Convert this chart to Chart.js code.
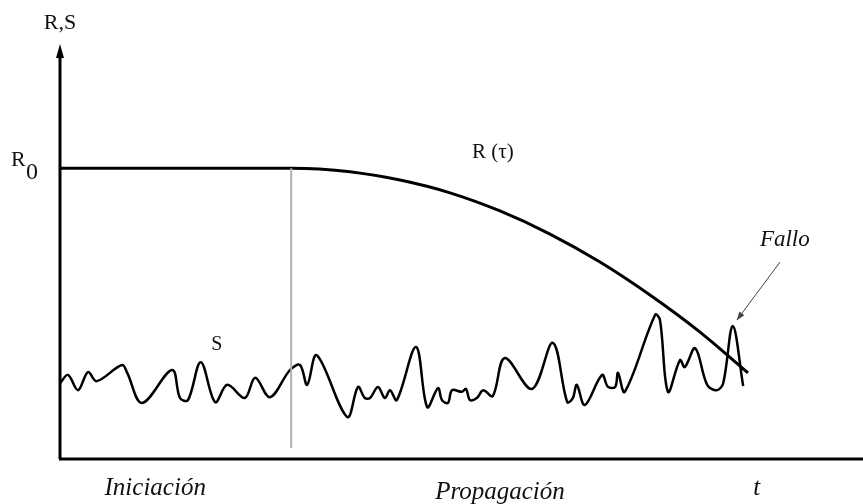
<!DOCTYPE html>
<html>
<head>
<meta charset="utf-8">
<script src="https://cdn.jsdelivr.net/npm/chart.js@4"></script>
<style>
  html, body { margin: 0; padding: 0; background: #fff; }
</style>
</head>
<body>
<canvas id="chart" width="863" height="504"></canvas>
<script>
/* global Chart */

// resistance R(t): flat at R0 through initiation, then falls
const r_time = [0, 28.9, 32.4, 36.25, 42.5, 48.75, 55, 61.25, 67.5, 73.75, 80, 86];
const r_value = [70.6, 70.6, 70.4, 69.7, 67.7, 64.6, 60.2, 54.6, 47.8, 39.8, 30.8, 20.9];

// load S(t), noisy
const s_time = [
    0, 1.0, 2.25, 3.5, 4.6, 7.75, 8.4, 10.25, 14.0, 15, 16, 17.6, 19.4, 20.9,
    23.1, 24.4, 26.25, 28.75, 30, 30.9, 32.1, 35.9, 37.25, 38.1, 38.75, 39.75,
    40.6, 41.25, 42.1, 44.5, 45.9, 47.25, 47.75, 48.5, 49, 50.25, 50.75, 51.25,
    52.1, 52.9, 54.1, 55.6, 59, 61.6, 63.4, 64.1, 64.6, 65.6, 67.75, 68.5,
    69.4, 69.75, 70.6, 74.4, 75, 76, 77.5, 78.1, 79.4, 80.9, 82.1, 82.9, 84.1,
    85.4
];
const s_value = [
    18.4, 20.4, 16.7, 21.1, 18.9, 22.8, 20.9, 13.6, 21.6, 14.8, 14.3, 23.5, 13.8,
    18.0, 14.8, 19.7, 15.0, 21.6, 22.8, 18.0, 25.2, 10.2, 17.5, 14.8, 14.8, 17.5,
    14.8, 16.7, 14.3, 27.2, 12.6, 17.2, 14.3, 13.6, 16.7, 16.3, 17.0, 14.3,
    14.8, 16.7, 15.3, 24.5, 17.0, 28.2, 13.8, 14.8, 18.0, 13.1, 20.4, 17.5,
    17.5, 20.9, 16.3, 35.0, 33.7, 16.3, 24.0, 22.3, 26.9, 18.0, 16.7, 18.4, 32.3,
    17.7
];

// end of initiation phase
const phase_time = [28.9, 28.9];
const phase_value = [70.6, 2.7];

const R0 = 70.6;
const failure_point = { t: 84.6, v: 33.7 };
const failure_label = { t: 90.6, v: 53.2 };

const toPoints = (xs, ys) => xs.map((x, i) => ({ x: x, y: ys[i] }));

const SERIF = '"Liberation Serif", "DejaVu Serif", serif';

const sketchDecor = {
    id: "sketchDecor",
    afterDraw(chart) {
        const ctx = chart.ctx;
        const area = chart.chartArea;
        const xs = chart.scales.x;
        const ys = chart.scales.y;
        ctx.save();

        // axes
        ctx.strokeStyle = "#000";
        ctx.lineWidth = 3;
        ctx.beginPath();
        ctx.moveTo(area.left, area.bottom);
        ctx.lineTo(area.left, area.top + 8);
        ctx.moveTo(area.left - 1, area.bottom);
        ctx.lineTo(chart.width, area.bottom);
        ctx.stroke();
        ctx.fillStyle = "#000";
        ctx.beginPath();
        ctx.moveTo(area.left, area.top - 3);
        ctx.lineTo(area.left - 4, area.top + 11);
        ctx.lineTo(area.left + 4, area.top + 11);
        ctx.closePath();
        ctx.fill();

        ctx.fillStyle = "#111";
        ctx.textAlign = "center";
        ctx.textBaseline = "middle";

        ctx.font = "22px " + SERIF;
        ctx.fillText("R,S", area.left, 23);

        const r0y = ys.getPixelForValue(R0);
        ctx.font = "22px " + SERIF;
        ctx.textAlign = "left";
        ctx.fillText("R", 11, r0y - 8);
        ctx.font = "24px " + SERIF;
        ctx.fillText("0", 26, r0y + 5);

        ctx.textAlign = "center";
        ctx.font = "21px " + SERIF;
        ctx.fillText("R (\u03c4)", xs.getPixelForValue(54.1), ys.getPixelForValue(74.5));
        ctx.font = "20px " + SERIF;
        ctx.fillText("S", xs.getPixelForValue(19.6), ys.getPixelForValue(27.7));

        ctx.font = "italic 23px " + SERIF;
        ctx.fillText("Fallo", xs.getPixelForValue(failure_label.t), ys.getPixelForValue(failure_label.v));

        // arrow to failure point
        const ax0 = xs.getPixelForValue(failure_label.t - 0.6);
        const ay0 = ys.getPixelForValue(failure_label.v - 5.4);
        const ax1 = xs.getPixelForValue(failure_point.t);
        const ay1 = ys.getPixelForValue(failure_point.v);
        const ang = Math.atan2(ay1 - ay0, ax1 - ax0);
        ctx.strokeStyle = "#444";
        ctx.lineWidth = 1;
        ctx.beginPath();
        ctx.moveTo(ax0, ay0);
        ctx.lineTo(ax1, ay1);
        ctx.stroke();
        ctx.fillStyle = "#444";
        ctx.beginPath();
        ctx.moveTo(ax1, ay1);
        ctx.lineTo(ax1 - 9 * Math.cos(ang - 0.35), ay1 - 9 * Math.sin(ang - 0.35));
        ctx.lineTo(ax1 - 9 * Math.cos(ang + 0.35), ay1 - 9 * Math.sin(ang + 0.35));
        ctx.closePath();
        ctx.fill();

        ctx.fillStyle = "#111";
        ctx.font = "italic 25px " + SERIF;
        ctx.fillText("Iniciación", xs.getPixelForValue(11.9), 488);
        ctx.fillText("Propagación", xs.getPixelForValue(55), 492);
        ctx.fillText("t", xs.getPixelForValue(87.1), 488);

        ctx.restore();
    },
};

new Chart(document.getElementById("chart"), {
    type: "line",
    data: {
        datasets: [
            {
                label: "fase",
                data: toPoints(phase_time, phase_value),
                borderColor: "#b0b0b0",
                borderWidth: 2,
                pointRadius: 0,
            },
            {
                label: "R",
                data: toPoints(r_time, r_value),
                borderColor: "#000",
                borderWidth: 3,
                pointRadius: 0,
                cubicInterpolationMode: "monotone",
            },
            {
                label: "S",
                data: toPoints(s_time, s_value),
                borderColor: "#000",
                borderWidth: 2.5,
                pointRadius: 0,
                tension: 0.35,
            },
        ],
    },
    options: {
        responsive: false,
        animation: false,
        layout: {
            padding: { left: 60, right: 3, top: 47, bottom: 45 },
        },
        plugins: {
            legend: { display: false },
            tooltip: { enabled: false },
        },
        scales: {
            x: { type: "linear", min: 0, max: 100, display: false },
            y: { min: 0, max: 100, display: false },
        },
    },
    plugins: [sketchDecor],
});
</script>
</body>
</html>
